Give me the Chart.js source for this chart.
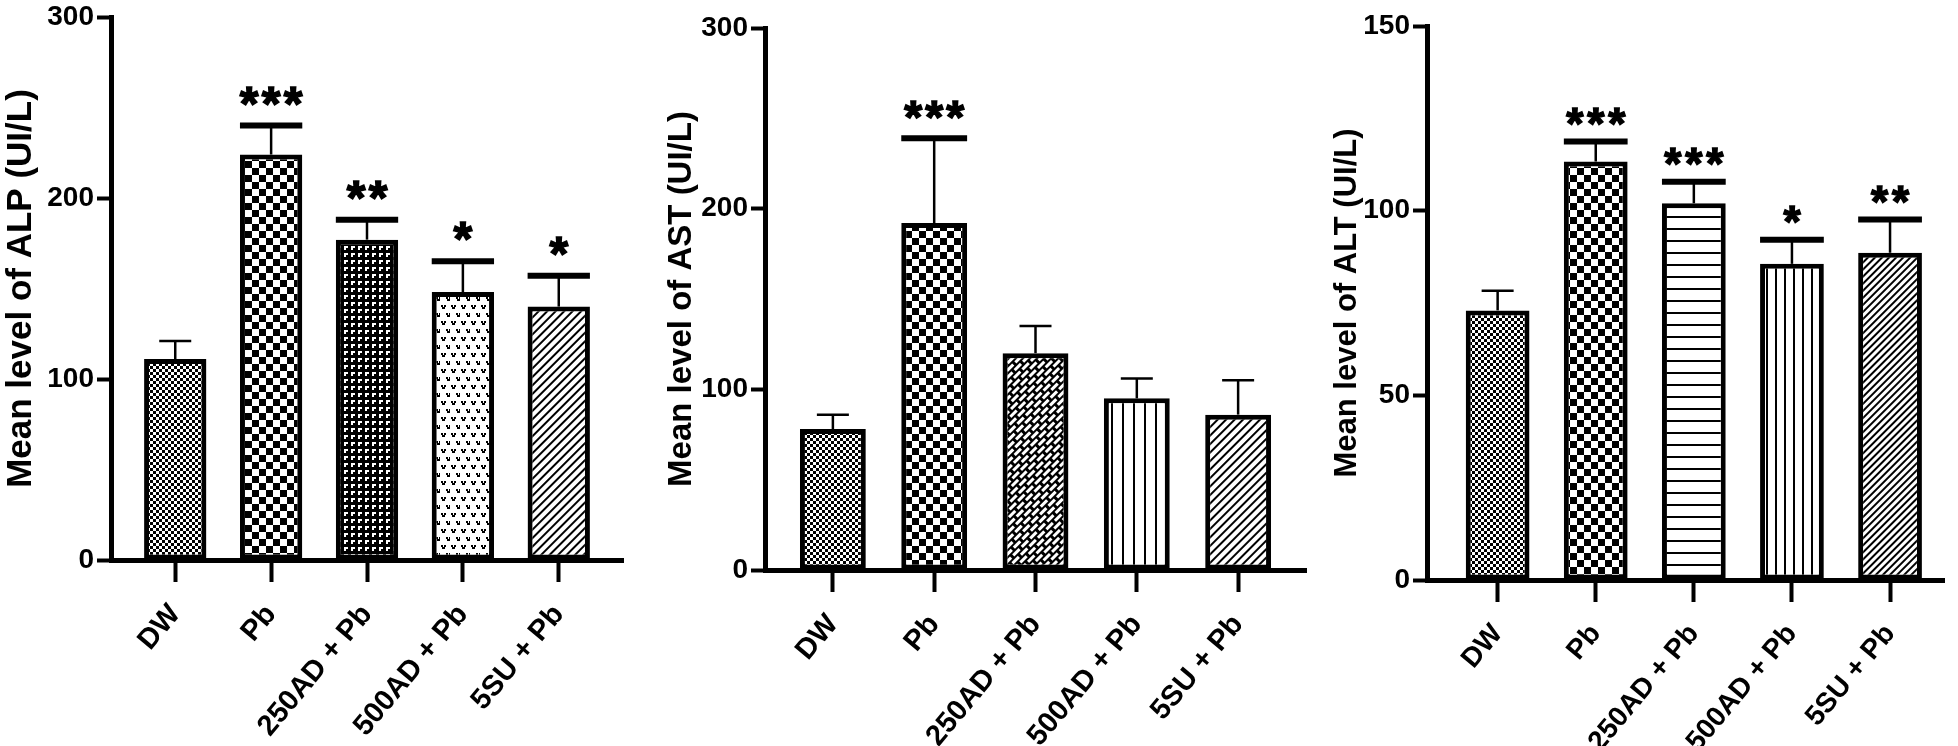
<!DOCTYPE html>
<html>
<head>
<meta charset="utf-8">
<script src="https://cdn.jsdelivr.net/npm/chart.js@4/dist/chart.umd.min.js"></script>
<style>
    html, body { margin: 0; padding: 0; background: #fff; }
    body { width: 1958px; height: 746px; position: relative; overflow: hidden; }
    canvas { position: absolute; top: 0; }
</style>
</head>
<body>
<canvas id="alpChart" width="650" height="746" style="left:0px"></canvas>
<canvas id="astChart" width="660" height="746" style="left:660px"></canvas>
<canvas id="altChart" width="633" height="746" style="left:1325px"></canvas>
<script>
// Groups on the x axis (same for all three panels)
const groups = ['DW', 'Pb', '250AD + Pb', '500AD + Pb', '5SU + Pb'];

// ALP
const alpMean = [111, 224, 177, 148, 140];
const alpSd = [10, 16, 11, 17, 17];
const alpStars = ['', '***', '**', '*', '*'];
const alpTicks = [0, 100, 200, 300];

// AST
const astMean = [78, 192, 120, 95, 86];
const astSd = [8, 47, 15, 11, 19];
const astStars = ['', '***', '', '', ''];
const astTicks = [0, 100, 200, 300];

// ALT
const altMean = [73, 113.3, 102, 85.6, 88.6];
const altSd = [5.3, 5.4, 5.8, 6.5, 9];
const altStars = ['', '***', '***', '*', '**'];
const altTicks = [0, 50, 100, 150];

const FONT = '"Liberation Sans", Arial, sans-serif';

// --- fill patterns (black & white, like the original figure) ---
function tile(w, h, bg, draw) {
    const c = document.createElement('canvas');
    c.width = w;
    c.height = h;
    const g = c.getContext('2d');
    g.fillStyle = bg;
    g.fillRect(0, 0, w, h);
    g.fillStyle = bg === '#000' ? '#fff' : '#000';
    draw(g);
    return c;
}

function pattern(ctx, c, angle) {
    const p = ctx.createPattern(c, 'repeat');
    if (angle) p.setTransform(new DOMMatrix().rotateSelf(angle));
    return p;
}

const fineChecker = ctx => pattern(ctx, tile(6, 6, '#fff', g => { g.fillRect(0, 0, 3, 3); g.fillRect(3, 3, 3, 3); }));
const checker = ctx => pattern(ctx, tile(14, 14, '#fff', g => { g.fillRect(0, 0, 7, 7); g.fillRect(7, 7, 7, 7); }));
const elbows = ctx => pattern(ctx, tile(7, 7, '#000', g => { g.fillRect(1, 1, 4, 2); g.fillRect(1, 1, 2, 4); }));
const hearts = ctx => pattern(ctx, tile(10, 16, '#fff', g => {
    [[1, 1], [6, 9]].forEach(([x, y]) => {
        g.fillRect(x, y, 2, 2);
        g.fillRect(x + 3, y, 2, 2);
        g.fillRect(x + 1, y + 2, 3, 2);
    });
}));
const hatch = (ctx, s) => pattern(ctx, tile(s, 4, '#fff', g => g.fillRect(0, 0, 2, 4)), 45);
const vlines = (ctx, s) => pattern(ctx, tile(s, 4, '#fff', g => g.fillRect(0, 0, 2, 4)));
const hlines = (ctx, s) => pattern(ctx, tile(4, s, '#fff', g => g.fillRect(0, 0, 4, 2)));
const bricks = ctx => pattern(ctx, tile(12, 10, '#000', g => {
    g.fillRect(1, 1, 9, 3);
    g.fillRect(7, 6, 5, 3);
    g.fillRect(0, 6, 4, 3);
}), -45);

// error bars (upper SD only) + significance stars
const errorBars = {
    id: 'errorBars',
    afterDatasetsDraw(chart, args, opts) {
        const { ctx } = chart;
        const y = chart.scales.y;
        const meta = chart.getDatasetMeta(0);
        ctx.save();
        ctx.strokeStyle = '#000';
        ctx.fillStyle = '#000';
        meta.data.forEach((bar, i) => {
            const value = chart.data.datasets[0].data[i].y + opts.sd[i];
            const top = y.getPixelForValue(value);
            const stars = opts.stars[i];
            ctx.lineWidth = 2.5;
            ctx.beginPath();
            ctx.moveTo(bar.x, bar.y);
            ctx.lineTo(bar.x, top);
            ctx.stroke();

            const half = stars ? bar.width / 2 : 16;
            const thick = stars ? 6 : 2.5;
            ctx.lineWidth = thick;
            ctx.beginPath();
            ctx.moveTo(bar.x - half, top);
            ctx.lineTo(bar.x + half, top);
            ctx.stroke();

            if (stars) {
                ctx.font = 'bold ' + opts.starSize + 'px ' + FONT;
                ctx.textAlign = 'center';
                ctx.textBaseline = 'alphabetic';
                ctx.lineWidth = 1.5;
                const m = ctx.measureText('*');
                const base = top - thick / 2 - opts.starGap - m.actualBoundingBoxDescent;
                const n = stars.length;
                for (let k = 0; k < n; k++) {
                    const sx = bar.x + (k - (n - 1) / 2) * opts.starStep;
                    ctx.fillText('*', sx, base);
                    ctx.strokeText('*', sx, base);
                }
            }
        });
        ctx.restore();
    }
};

function makePanel(id, title, mean, sd, stars, yTicks, fills, box) {
    const canvas = document.getElementById(id);
    const ctx = canvas.getContext('2d');
    return new Chart(ctx, {
        type: 'bar',
        data: {
            datasets: [{
                data: mean.map((v, i) => ({ x: i, y: v })),
                backgroundColor: fills.map(f => f(ctx)),
                borderColor: '#000',
                borderWidth: 5,
                borderSkipped: false,
                categoryPercentage: 1,
                barPercentage: 0.65
            }]
        },
        options: {
            responsive: false,
            animation: false,
            events: [],
            layout: { padding: { top: box.top, right: box.right, left: 0, bottom: 0 } },
            plugins: {
                legend: { display: false },
                tooltip: { enabled: false },
                errorBars: { sd, stars, starSize: box.starSize, starStep: box.starStep, starGap: box.starGap }
            },
            scales: {
                x: {
                    type: 'linear',
                    offset: false,
                    min: -box.xStart,
                    max: groups.length - 1 + box.xEnd,
                    afterBuildTicks: s => { s.ticks = groups.map((g, i) => ({ value: i })); },
                    afterFit: s => { s.height = box.xAxis; },
                    grid: { offset: false, drawOnChartArea: false, color: '#000', tickLength: 22, tickWidth: 4 },
                    border: { color: '#000', width: 5 },
                    ticks: {
                        autoSkip: false,
                        minRotation: 50,
                        maxRotation: 50,
                        padding: 16,
                        color: '#000',
                        font: { family: FONT, size: box.xFont, weight: 'bold', lineHeight: 1.2 },
                        callback: v => groups[v]
                    }
                },
                y: {
                    min: yTicks[0],
                    max: yTicks[yTicks.length - 1],
                    afterBuildTicks: s => { s.ticks = yTicks.map(v => ({ value: v })); },
                    afterFit: s => { s.width = box.left; },
                    grid: { drawOnChartArea: false, color: '#000', tickLength: 14, tickWidth: 4 },
                    border: { color: '#000', width: 5 },
                    ticks: {
                        padding: 3,
                        color: '#000',
                        font: { family: FONT, size: 28, weight: 'bold', lineHeight: 1 }
                    },
                    title: {
                        display: true,
                        text: title,
                        color: '#000',
                        font: { family: FONT, size: box.titleSize, weight: 'bold', lineHeight: 1 },
                        padding: { top: box.titlePad, bottom: 0 }
                    }
                }
            }
        },
        plugins: [errorBars]
    });
}

makePanel('alpChart', 'Mean level of ALP (UI/L)', alpMean, alpSd, alpStars, alpTicks,
    [fineChecker, checker, elbows, hearts, ctx => hatch(ctx, 6)],
    { left: 111, right: 27, top: 14, xAxis: 186, xStart: 0.67, xEnd: 0.67, xFont: 29, titleSize: 35, titlePad: 4,
      starSize: 48, starStep: 22, starGap: 18 });

makePanel('astChart', 'Mean level of AST (UI/L)', astMean, astSd, astStars, astTicks,
    [fineChecker, checker, bricks, ctx => vlines(ctx, 11), ctx => hatch(ctx, 6)],
    { left: 105, right: 14, top: 28, xAxis: 176, xStart: 0.67, xEnd: 0.67, xFont: 29, titleSize: 33, titlePad: 5,
      starSize: 46, starStep: 21, starGap: 16 });

makePanel('altChart', 'Mean level of ALT (UI/L)', altMean, altSd, altStars, altTicks,
    [fineChecker, checker, ctx => hlines(ctx, 12), ctx => vlines(ctx, 9), ctx => hatch(ctx, 5)],
    { left: 102, right: 14, top: 26, xAxis: 166, xStart: 0.72, xEnd: 0.55, xFont: 28, titleSize: 31, titlePad: 7,
      starSize: 44, starStep: 21, starGap: 14 });
</script>
</body>
</html>
